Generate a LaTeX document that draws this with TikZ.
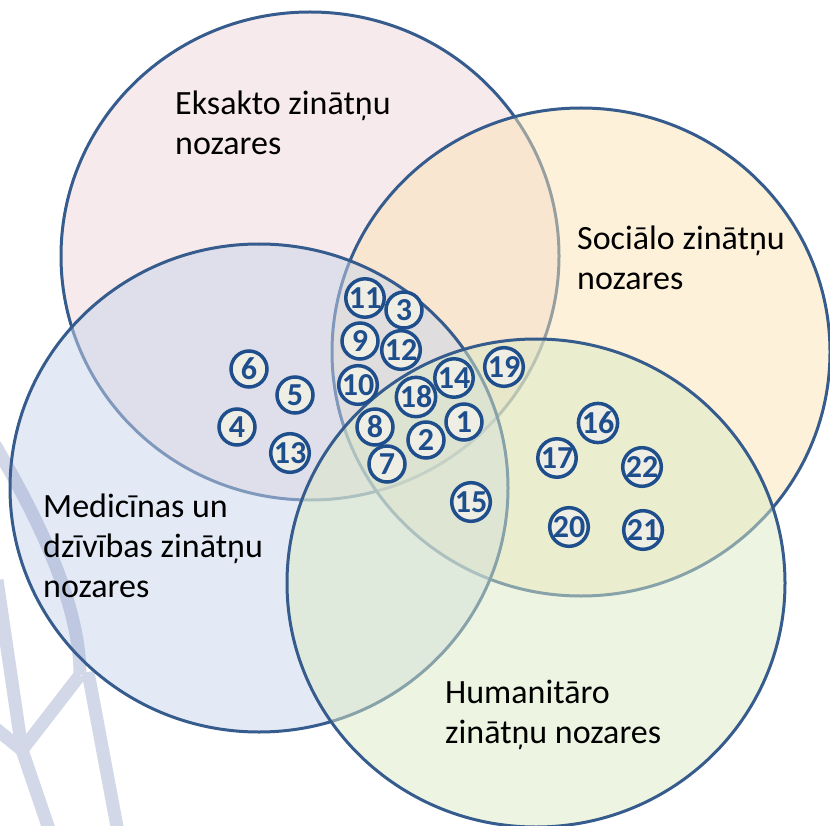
\documentclass[tikz,border=0pt]{standalone}
\usepackage{fontspec}
\setmainfont{Carlito}
\usepackage{tikz}
\usetikzlibrary{shapes.geometric}

\definecolor{rim}{HTML}{365C8D}
\definecolor{numblue}{HTML}{1F4E8C}
\definecolor{badge}{HTML}{EFEEE4}
\definecolor{pinkset}{HTML}{EDD5D9}
\definecolor{yellowset}{HTML}{FBE3B5}
\definecolor{blueset}{HTML}{C9D5EB}
\definecolor{greenset}{HTML}{DBE9C5}
\definecolor{wmark}{HTML}{4F63A3}

\begin{document}
\begin{tikzpicture}[x=1pt, y=-1pt,
	set/.style = {draw=rim, line width=3pt, ellipse, minimum width=498pt, minimum height=488pt, fill opacity=0.5},
	num/.style = {draw=numblue, line width=3.5pt, circle, fill=badge, minimum size=36pt, inner sep=0pt, text=numblue, font=\fontsize{32}{32}\selectfont\bfseries},
	lbl/.style = {align=left, anchor=base west, inner sep=0pt, font=\fontsize{34}{40}\selectfont},
	wm/.style = {draw=wmark, line width=13pt}]
	\useasboundingbox (0,0) rectangle (830,826);
	% the four fields
	\node[set, fill=pinkset] (eks) at (310,256) {};
	\node[set, fill=yellowset] (soc) at (581,352) {};
	\node[set, fill=blueset] (med) at (259,488) {};
	\node[set, fill=greenset] (hum) at (536,583) {};
	% faint mark in the corner
	\begin{scope}[transparency group, opacity=0.25]
	\draw[wm] (-5,445) .. controls (45,530) and (80,610) .. (80,675);
	\draw[wm] (80,675) -- (22,750);
	\draw[wm] (-3,580) -- (22,750) -- (50,832);
	\draw[wm] (22,750) -- (-5,728);
	\draw[wm] (88,672) -- (118,832);
	\end{scope}
	\node[lbl] (eksl) at (175,155) {Eksakto zinātņu\\nozares};
	\node[lbl] (socl) at (577,290) {Sociālo zinātņu\\nozares};
	\node[lbl] (medl) at (43,597) {Medicīnas un\\dzīvības zinātņu\\nozares};
	\node[lbl] (huml) at (445,743) {Humanitāro\\zinātņu nozares};
	% numbered items
	\node[num] (11) at (365,298) {11};
	\node[num] (3) at (404,310) {3};
	\node[num] (9) at (360,341) {9};
	\node[num] (12) at (401,350) {12};
	\node[num] (10) at (358,385) {10};
	\node[num] (14) at (454,378) {14};
	\node[num] (19) at (504,367) {19};
	\node[num] (18) at (416,397) {18};
	\node[num] (1) at (464,422) {1};
	\node[num] (8) at (375,427) {8};
	\node[num] (2) at (426,440) {2};
	\node[num] (7) at (387,464) {7};
	\node[num] (15) at (471,502) {15};
	\node[num] (6) at (249,369) {6};
	\node[num] (5) at (295,395) {5};
	\node[num] (4) at (237,427) {4};
	\node[num] (13) at (290,453) {13};
	\node[num] (16) at (598,423) {16};
	\node[num] (17) at (557,458) {17};
	\node[num] (22) at (642,467) {22};
	\node[num] (20) at (569,527) {20};
	\node[num] (21) at (643,530) {21};
\end{tikzpicture}
\end{document}
